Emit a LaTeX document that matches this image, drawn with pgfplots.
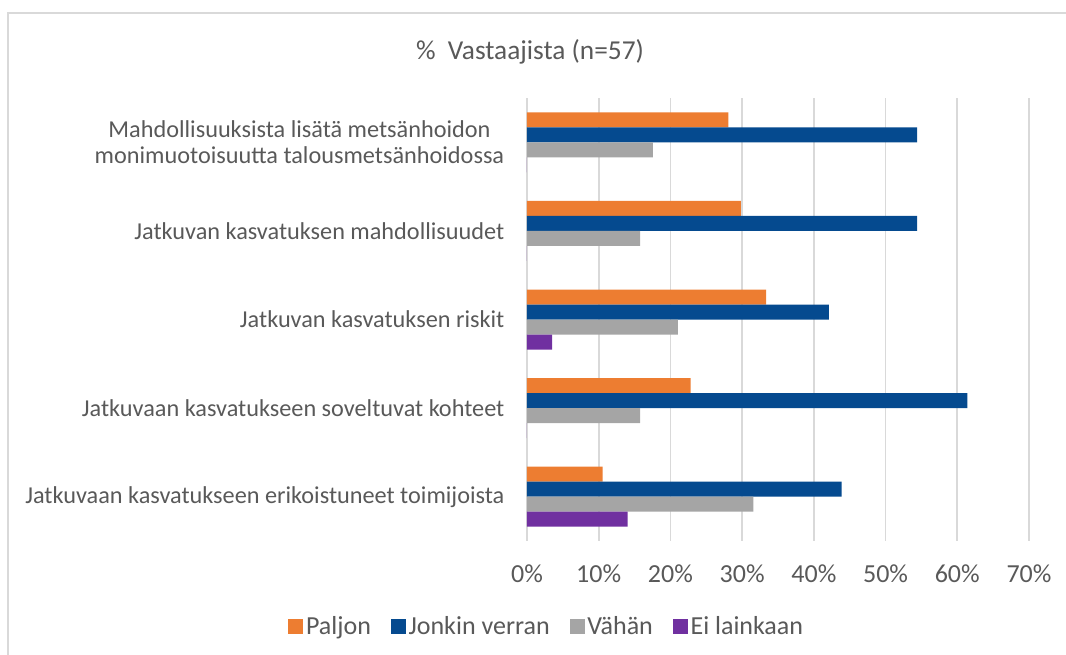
\documentclass[border=0pt]{standalone}
\usepackage{fontspec}
\setmainfont{Carlito}
\usepackage{pgfplots}
\pgfplotsset{compat=1.18}
\definecolor{cPaljon}{HTML}{ED7D31}
\definecolor{cJonkin}{HTML}{054A8F}
\definecolor{cVahan}{HTML}{A5A5A5}
\definecolor{cEi}{HTML}{7030A0}
\definecolor{cGrid}{HTML}{D9D9D9}
\definecolor{cText}{HTML}{595959}

\begin{document}
\begin{tikzpicture}
\begin{axis}[
  xbar,
  scale only axis,
  width=376.5pt,
  height=332.25pt,
  y dir=reverse,
  ymin=0.5, ymax=5.5,
  xmin=0, xmax=70,
  xtick={0,10,...,70},
  xticklabel={\pgfmathprintnumber{\tick}\%},
  ytick={1,2,3,4,5},
  yticklabels={{Mahdollisuuksista lisätä metsänhoidon\\monimuotoisuutta talousmetsänhoidossa},
               {Jatkuvan kasvatuksen mahdollisuudet},
               {Jatkuvan kasvatuksen riskit},
               {Jatkuvaan kasvatukseen soveltuvat kohteet},
               {Jatkuvaan kasvatukseen erikoistuneet toimijoista}},
  yticklabel style={align=center, font=\fontsize{18.2}{20}\selectfont, text=cText, xshift=-13.5pt},
  xticklabel style={font=\fontsize{19.5}{22}\selectfont, text=cText, yshift=-14pt},
  /pgf/number format/assume math mode=true,
  xmajorgrids,
  grid style={draw=cGrid, line width=1.2pt},
  axis line style={draw=none},
  major tick length=0pt,
  bar width=11.25pt,
  legend columns=4,
  legend style={at={(0.04,-0.192)}, anchor=center, draw=none,
    font=\fontsize{19.5}{22}\selectfont, text=cText,
    /tikz/every even column/.append style={column sep=13pt}},
  legend image code/.code={\fill[#1] (0pt,-5.6pt) rectangle (11.25pt,5.6pt);},
]
\addplot[fill=cPaljon, draw=none, bar shift=16.875pt]
  coordinates {(28.07,1) (29.82,2) (33.33,3) (22.81,4) (10.53,5)};
\addplot[fill=cJonkin, draw=none, bar shift=5.625pt]
  coordinates {(54.39,1) (54.39,2) (42.11,3) (61.40,4) (43.86,5)};
\addplot[fill=cVahan, draw=none, bar shift=-5.625pt]
  coordinates {(17.54,1) (15.79,2) (21.05,3) (15.79,4) (31.58,5)};
\addplot[fill=cEi, draw=none, bar shift=-16.875pt]
  coordinates {(0,1) (0,2) (3.51,3) (0,4) (14.04,5)};
\legend{Paljon, Jonkin verran, Vähän, Ei lainkaan}
\end{axis}
\node[font=\fontsize{20.5}{24}\selectfont, text=cText] at (2.25pt,366.75pt) {\%\ \ Vastaajista (n=57)};
\draw[cGrid, line width=1.5pt] (-389.25pt,-85.5pt) -- (-389.25pt,396pt) -- (404.25pt,396pt);
\pgfresetboundingbox
\useasboundingbox (-395.25pt,-85.5pt) rectangle (404.25pt,405.75pt);
\end{tikzpicture}
\end{document}
